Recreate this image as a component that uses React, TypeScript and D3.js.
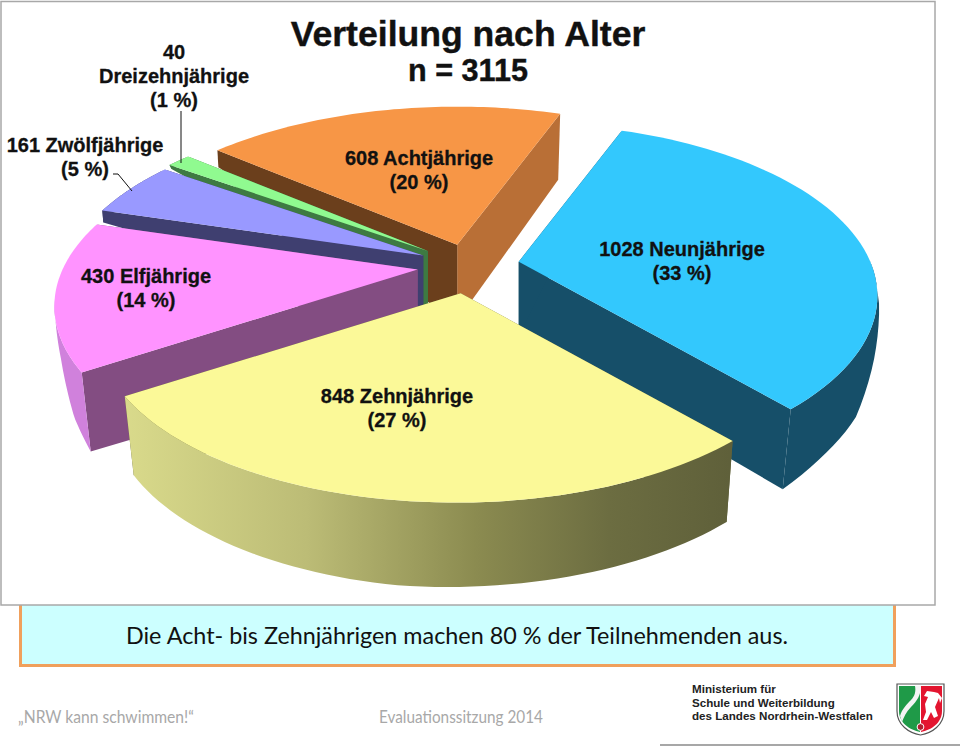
import React from "react";
import * as d3 from "d3";

// values, in clockwise order starting at the top
const ages = ["Neunjährige", "Zehnjährige", "Elfjährige", "Zwölfjährige", "Dreizehnjährige", "Achtjährige"];
const counts = [1028, 848, 430, 161, 40, 608];
const percents = [33, 27, 14, 5, 1, 20];

const title = "Verteilung nach Alter";
const subtitle = "n = 3115";
const caption = "Die Acht- bis Zehnjährigen machen 80 % der Teilnehmenden aus.";
const footerLeft = "„NRW kann schwimmen!“";
const footerMid = "Evaluationssitzung 2014";
const ministry = ["Ministerium für", "Schule und Weiterbildung", "des Landes Nordrhein-Westfalen"];

const width = 960;
const height = 748;

// perspective of the pie plane (homography of the unit circle)
const cam = { cx: 469, cy: 266, a: 331.2, b: 123, c: 57.07, d: -156.4, e: -0.0653, f: 0.194 };
const project = (x: number, y: number): [number, number] => {
  const w = 1 + cam.e * x + cam.f * y;
  return [(cam.a * x + cam.b * y) / w, (cam.c * x + cam.d * y) / w];
};

// per slice look, same order as the data
const explode = [0.144, 0.16, 0.146, 0.146, 0.15, 0.135];
const topColors = ["#33c8fd", "#fbf998", "#ff93ff", "#9999ff", "#90fa90", "#f79646"];
const startColors = ["#164f69", "#62633a", "#834d82", "#3f3f70", "#3e7a42", "#6b3f1c"];
const endColors = ["#164f69", "#62633a", "#834d82", "#3f3f70", "#3e7a42", "#b96f36"];
const arcColors = ["#164f69", "url(#yellowSide)", "#d081dc", "#3f3f70", "#3e7a42", "none"];
const apexDepth = [74, 85, 85, 60, 60, 76];
const depthStops = [
  { t: [0, 0.59, 0.67, 0.757, 0.833, 0.926, 1], depth: [0, 0, 15, 41, 66, 72, 80], dx: [0, 0, 2, 0, -3, -5, -8] },
  { t: [0, 0.5, 1], depth: [81, 85, 79], dx: [-6, 0, 9] },
  { t: [0, 0.105, 0.266, 0.467, 1], depth: [79, 62, 28, 0, 0], dx: [9, 5, 3, 0, 0] },
  { t: [0, 1], depth: [12, 0], dx: [1, 0] },
  { t: [0, 1], depth: [4, 0], dx: [2, 0] },
  { t: [0, 1], depth: [17, 66], dx: [1, -2] },
];
const drawOrder = [5, 4, 3, 2, 0, 1];

// label anchors: centre x and first baseline
const labelX = [682, 397, 146, 85, 174, 419];
const labelY = [256, 403, 283, 152, 59, 165];

const arcs = d3.pie<number>().sort(null).startAngle(0).endAngle(2 * Math.PI)(counts);
const polygon = d3.line();
const fontBold = "'Liberation Sans', Arial, sans-serif";
const fontBody = "Lato, 'Open Sans', sans-serif";

function Slice({ i }: { i: number }) {
  const arc = arcs[i];
  const mid = (arc.startAngle + arc.endAngle) / 2;
  const off = project(explode[i] * Math.sin(mid), explode[i] * Math.cos(mid));
  const apex: [number, number] = [cam.cx + off[0], cam.cy + off[1]];

  const stops = depthStops[i];
  const depth = d3.scaleLinear().domain(stops.t).range(stops.depth);
  const dx = d3.scaleLinear().domain(stops.t).range(stops.dx);
  const angle = d3.scaleLinear().domain([0, 1]).range([arc.startAngle, arc.endAngle]);

  const ts = d3.range(0, 61).map((k) => k / 60);
  const rim = ts.map((t): [number, number] => {
    const p = project(Math.sin(angle(t)), Math.cos(angle(t)));
    return [apex[0] + p[0], apex[1] + p[1]];
  });
  const low = rim.map((p, k): [number, number] => [p[0] + dx(ts[k]), p[1] + depth(ts[k])]);
  const apexLow: [number, number] = [apex[0], apex[1] + apexDepth[i]];

  return (
    <g>
      <path d={polygon([apex, rim[60], low[60], apexLow]) + "Z"} fill={endColors[i]} />
      <path d={polygon([apex, rim[0], low[0], apexLow]) + "Z"} fill={startColors[i]} />
      <path d={polygon([...rim, ...low.slice().reverse()]) + "Z"} fill={arcColors[i]} />
      <path d={polygon([apex, ...rim]) + "Z"} fill={topColors[i]} />
    </g>
  );
}

function Label({ i }: { i: number }) {
  const lines =
    i === 4
      ? [`${counts[i]}`, ages[i], `(${percents[i]} %)`]
      : [`${counts[i]} ${ages[i]}`, `(${percents[i]} %)`];
  return (
    <text
      fontFamily={fontBold}
      fontWeight="bold"
      fontSize={20}
      textAnchor="middle"
      fill="#111"
      stroke="#111"
      strokeWidth={0.3}
    >
      {lines.map((s, k) => (
        <tspan key={k} x={labelX[i]} y={labelY[i] + k * 24}>
          {s}
        </tspan>
      ))}
    </text>
  );
}

function Crest() {
  return (
    <g transform="translate(896,683)">
      <path d="M1,1 H48 V28 C48,42 36,50 24.500,52 C13,50 1,42 1,28 Z" fill="#fff" stroke="#555" strokeWidth={1.2} />
      <path d="M3,3 H24 V49 C14,47 3,40 3,28 Z" fill="#1f9a48" />
      <path d="M25,3 H46 V28 C46,40 35,47 25,49 Z" fill="#e3152f" />
      <path d="M19,3 H25 C25,12 21,18 15,24 C10,29 8,34 6,39 L4,33 C6,26 11,21 15,17 C19,13 20,8 19,3 Z" fill="#f4f4f4" />
      <path
        d="M38,9 L31,8 L28,13 L32,14 L29,21 L30,29 L27,37 L31,37 L35,29 L38,35 L42,33 L39,24 L43,15 L44,20 L46,15 L42,10 Z"
        fill="#fff"
      />
      <circle cx={24.5} cy={44} r={3.4} fill="#b02030" stroke="#fff" strokeWidth={1} />
    </g>
  );
}

export default function App() {
  return (
    <svg width={width} height={height} style={{ position: "fixed", left: 0, top: 0, display: "block" }}>
      <defs>
        <linearGradient id="yellowSide" gradientUnits="userSpaceOnUse" x1={125} x2={730} y1={0} y2={0}>
          <stop offset="0" stopColor="#d9da8b" />
          <stop offset="0.3" stopColor="#bcbc76" />
          <stop offset="0.58" stopColor="#8b8b50" />
          <stop offset="0.8" stopColor="#6c6d41" />
          <stop offset="1" stopColor="#5f603a" />
        </linearGradient>
      </defs>
      <rect width={width} height={height} fill="#fff" />

      <rect x={20.5} y={590} width={874} height={75.500} fill="#ccffff" stroke="#f0a05c" strokeWidth={3} />
      <rect x={1} y={1.500} width={934} height={603.500} fill="#fff" stroke="#a8a8a8" strokeWidth={1.5} />

      {drawOrder.map((i) => (
        <Slice key={i} i={i} />
      ))}

      <path d="M181,111V163" fill="none" stroke="#111" strokeWidth={1} />
      <path d="M113,174H118L132,191" fill="none" stroke="#111" strokeWidth={1} />

      <text x={468} y={46} fontFamily={fontBold} fontWeight="bold" fontSize={35.6} textAnchor="middle" fill="#111" stroke="#111" strokeWidth={0.4}>
        {title}
      </text>
      <text x={468} y={81} fontFamily={fontBold} fontWeight="bold" fontSize={30.6} textAnchor="middle" fill="#111" stroke="#111" strokeWidth={0.4}>
        {subtitle}
      </text>
      {ages.map((_, i) => (
        <Label key={i} i={i} />
      ))}

      <text x={457} y={644} fontFamily={fontBody} fontSize={24} textAnchor="middle" fill="#111" textLength={662} lengthAdjust="spacingAndGlyphs">
        {caption}
      </text>
      <text x={18} y={723} fontFamily={fontBody} fontSize={16.5} fill="#a8a8a8" textLength={176} lengthAdjust="spacingAndGlyphs">
        {footerLeft}
      </text>
      <text x={379} y={723} fontFamily={fontBody} fontSize={16.5} fill="#a8a8a8" textLength={164} lengthAdjust="spacingAndGlyphs">
        {footerMid}
      </text>
      {ministry.map((s, k) => (
        <text key={k} x={692} y={693 + k * 13.5} fontFamily={fontBold} fontWeight="bold" fontSize={11.6} fill="#222">
          {s}
        </text>
      ))}
      <Crest />
      <line x1={660} x2={960} y1={745} y2={745} stroke="#8a8a8a" strokeWidth={1.5} />
    </svg>
  );
}
